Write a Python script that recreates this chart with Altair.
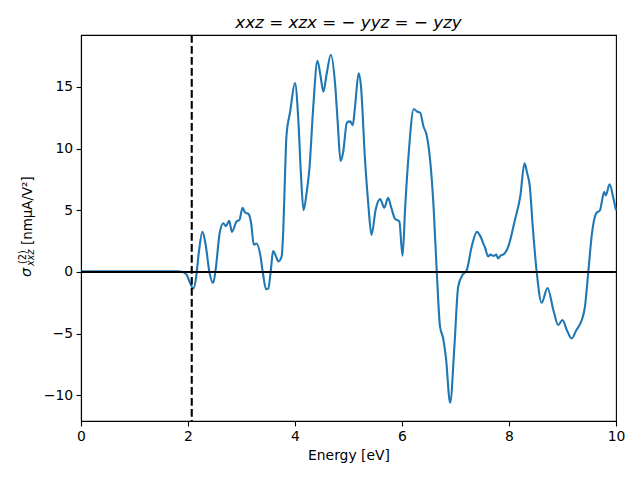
import altair as alt
import pandas as pd

energy = [0.0, 0.5, 1.0, 1.5, 1.8, 1.9, 1.97, 2.03, 2.10, 2.15, 2.20, 2.27, 2.33, 2.40, 2.47, 2.52,
          2.59, 2.66, 2.71, 2.77, 2.82, 2.91, 2.96, 3.02, 3.07, 3.13, 3.18, 3.23, 3.28, 3.35, 3.40,
          3.46, 3.50, 3.55, 3.59, 3.64, 3.69, 3.75, 3.78, 3.81, 3.84, 3.91, 4.00, 4.06, 4.11, 4.16,
          4.22, 4.27, 4.34, 4.42, 4.48, 4.53, 4.59, 4.67, 4.75, 4.80, 4.85, 4.90, 4.97, 5.03, 5.08,
          5.12, 5.19, 5.23, 5.31, 5.37, 5.43, 5.51, 5.59, 5.67, 5.74, 5.80, 5.87, 5.95, 6.01, 6.06,
          6.12, 6.22, 6.28, 6.34, 6.40, 6.46, 6.52, 6.59, 6.65, 6.71, 6.77, 6.82, 6.90, 6.98, 7.05,
          7.13, 7.21, 7.30, 7.40, 7.47, 7.52, 7.55, 7.61, 7.65, 7.68, 7.72, 7.76, 7.80, 7.85, 7.89,
          7.99, 8.11, 8.21, 8.29, 8.34, 8.39, 8.44, 8.52, 8.61, 8.72, 8.83, 8.92, 9.00, 9.08, 9.17,
          9.26, 9.36, 9.42, 9.48, 9.55, 9.63, 9.70, 9.78, 9.81, 9.88, 9.95, 10.0]
sigma = [0.05, 0.05, 0.05, 0.06, 0.05, 0.0, -0.2, -0.8, -1.35, -0.5, 1.5, 3.25, 2.2, 0.0, -0.9, 0.3,
         3.1, 3.95, 3.7, 4.15, 3.25, 4.1, 4.2, 5.2, 4.8, 4.7, 3.95, 2.2, 2.3, 1.4, -0.1,
         -1.4, -1.35, 0.2, 1.7, 1.3, 0.85, 1.25, 3.3, 7.4, 11.0, 13.0, 15.3, 12.5, 8.0, 5.0,
         6.5, 8.4, 13.3, 17.1, 15.8, 14.6, 16.0, 17.6, 15.2, 12.0, 9.0, 9.7, 12.1, 12.2, 11.9,
         13.3, 16.1, 15.2, 9.0, 5.5, 3.0, 5.1, 5.9, 5.2, 6.0, 5.2, 4.3, 4.1, 1.3, 5.3,
         9.3, 13.2, 13.0, 12.9, 11.8, 11.1, 9.3, 5.3, 0.0, -4.4, -5.4, -6.9, -10.6, -6.0, -1.2,
         -0.25, 0.15, 2.0, 3.25, 2.85, 2.3, 2.0, 1.25, 1.4, 1.35, 1.3, 1.4, 1.1, 1.35, 1.4,
         2.1, 4.2, 6.1, 8.8, 8.0, 6.9, 3.9, -0.1, -2.5, -1.3, -3.1, -4.3, -3.9, -4.7, -5.4,
         -4.7, -3.9, -2.8, -0.1, 3.1, 4.75, 5.0, 6.5, 6.2, 7.1, 6.0, 5.0]

gap_energy = [2.07]
zero_level = [0.0]
x_ticks = [0, 2, 4, 6, 8, 10]
y_ticks = [-10, -5, 0, 5, 10, 15]

FONT = "DejaVu Sans"

df = pd.DataFrame({"E": energy, "s": sigma})
xs = alt.Scale(domain=[0, 10], nice=False, zero=False)
ys = alt.Scale(domain=[-12.08, 19.2], nice=False, zero=False)

line = alt.Chart(df).mark_line(color="#1f77b4", strokeWidth=2.1, interpolate="monotone").encode(
    x=alt.X("E:Q", scale=xs, title="Energy [eV]",
            axis=alt.Axis(values=x_ticks, format="d", labelFlush=False)),
    y=alt.Y("s:Q", scale=ys, title="",
            axis=alt.Axis(values=y_ticks, format="d", labelFlush=False)),
)

hline = alt.Chart(pd.DataFrame({"z": zero_level})).mark_rule(color="black", strokeWidth=2.1).encode(
    y=alt.Y("z:Q", scale=ys))

vline = alt.Chart(pd.DataFrame({"g": gap_energy})).mark_rule(
    color="black", strokeWidth=2.1, strokeDash=[7.7, 3.3]).encode(
    x=alt.X("g:Q", scale=xs))

def lab(t, x, y, size, style="normal"):
    return alt.Chart(pd.DataFrame({"t": [t]})).mark_text(
        angle=270, align="left", baseline="alphabetic", font=FONT,
        fontSize=size, fontStyle=style, color="black").encode(
        x=alt.value(x), y=alt.value(y), text="t:N")

ylab = (lab("σ", -50.5, 242, 14.5, "italic")
        + lab("(2)", -55, 229, 9.7)
        + lab("xxz", -47.5, 231, 9.7, "italic")
        + lab("[nmμA/V²]", -49, 210, 13.4))

chart = alt.layer(line, hline, vline, ylab).properties(
    width=535, height=386,
    title=alt.TitleParams("xxz = xzx = − yyz = − yzy", font=FONT, fontSize=16.7,
                          fontStyle="italic", fontWeight="normal", offset=2, color="black"),
    autosize=alt.AutoSizeParams(type="none"),
    padding={"left": 81, "top": 35, "right": 24, "bottom": 59},
).configure_view(stroke="black", strokeWidth=1.1).configure_axis(
    grid=False, domainColor="black", domainWidth=1.1, tickColor="black", tickWidth=1.1,
    tickSize=4.9, labelPadding=3.5, labelFont=FONT, labelFontSize=13.9, labelColor="black",
    titleFont=FONT, titleFontSize=13.9, titleFontWeight="normal", titleColor="black",
    titlePadding=5,
)

chart.save("out.html", embed_options={"renderer": "svg", "actions": False})
